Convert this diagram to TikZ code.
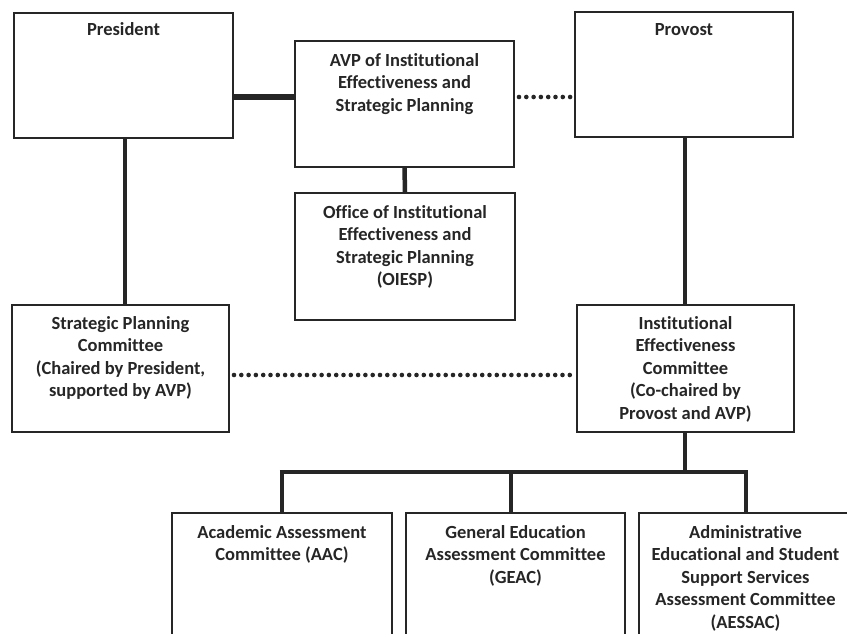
\documentclass[tikz,border=0pt]{standalone}
\usepackage{fontspec}
\setmainfont{Carlito}[Ligatures={NoCommon}]
\definecolor{ink}{HTML}{262626}
\begin{document}
\begin{tikzpicture}[x=1pt,y=-1pt,
  box/.style={draw=ink,line width=2pt,inner sep=0pt,rectangle},
  lbl/.style={anchor=north,inner sep=0pt,align=center,text=ink,
    font=\fontsize{18.5}{22.5}\selectfont\bfseries},
  solidlink/.style={draw=ink,line width=4.5pt},
  heavylink/.style={draw=ink,line width=6pt},
  dotlink/.style={draw=ink,line width=4.6pt,line cap=round,dash pattern=on 0pt off 7.3pt}
]
\useasboundingbox (0,0) rectangle (847,634);
\clip (0,0) rectangle (847,634);
\fill[white] (0,0) rectangle (847,634);

% boxes
\node[box,minimum width=219pt,minimum height=125pt] (pres) at (123.5,75.5) {};
\node[box,minimum width=219pt,minimum height=126pt] (avp) at (404.5,104) {};
\node[box,minimum width=220pt,minimum height=127pt] (oiesp) at (405,256.5) {};
\node[box,minimum width=218pt,minimum height=125pt] (prov) at (684,74.5) {};
\node[box,minimum width=217pt,minimum height=127pt] (spc) at (120.5,368.5) {};
\node[box,minimum width=217pt,minimum height=127pt] (iec) at (685.5,368.5) {};
\node[box,minimum width=220pt,minimum height=200pt] (aac) at (282,613) {};
\node[box,minimum width=219pt,minimum height=200pt] (geac) at (515.5,613) {};
\node[box,minimum width=217pt,minimum height=200pt] (aes) at (747.5,613) {};

% labels
\node[lbl] (presT) at ([yshift=-10pt]pres.north) {President};
\node[lbl] (avpT) at ([yshift=-13pt]avp.north) {AVP of Institutional\\Effectiveness and\\Strategic Planning};
\node[lbl] (oiespT) at ([yshift=-13pt]oiesp.north) {Office of Institutional\\Effectiveness and\\Strategic Planning\\(OIESP)};
\node[lbl] (provT) at ([yshift=-12pt]prov.north) {Provost};
\node[lbl] (spcT) at ([yshift=-12pt]spc.north) {Strategic Planning\\Committee\\(Chaired by President,\\supported by AVP)};
\node[lbl] (iecT) at ([yshift=-12pt]iec.north) {Institutional\\Effectiveness\\Committee\\(Co-chaired by\\Provost and AVP)};
\node[lbl] (aacT) at ([yshift=-13pt]aac.north) {Academic Assessment\\Committee (AAC)};
\node[lbl] (geacT) at ([yshift=-13pt]geac.north) {General Education\\Assessment Committee\\(GEAC)};
\node[lbl] (aesT) at ([xshift=-2pt,yshift=-13pt]aes.north) {Administrative\\Educational and Student\\Support Services\\Assessment Committee\\(AESSAC)};

% helper coordinates
\coordinate (rowA) at (0,97);
\coordinate (rowB) at (0,375);
\coordinate (bar) at (0,472);
\coordinate (colP) at (125,0);
\coordinate (colR) at (685,0);
\coordinate (colG) at (511,0);
\coordinate (colE) at (746,0);

% connectors
\draw[heavylink] (pres.east |- rowA) -- (avp.west |- rowA);
\draw[dotlink] ([xshift=4pt]avp.east |- rowA) -- ([xshift=-3pt]prov.west |- rowA);
\draw[solidlink] (avp.south) -- (oiesp.north);
\draw[solidlink] (colP |- pres.south) -- (colP |- spc.north);
\draw[solidlink] (colR |- prov.south) -- (colR |- iec.north);
\draw[dotlink] ([xshift=4pt]spc.east |- rowB) -- ([xshift=-3pt]iec.west |- rowB);
\draw[solidlink] (colR |- iec.south) -- (colR |- bar);
\draw[solidlink] ([xshift=-2.25pt]aac.north |- bar) -- ([xshift=2.25pt]colE |- bar);
\draw[solidlink] ([yshift=-2pt]aac.north |- bar) -- (aac.north);
\draw[solidlink] ([yshift=-2pt]colG |- bar) -- (colG |- geac.north);
\draw[solidlink] ([yshift=-2pt]colE |- bar) -- (colE |- aes.north);
\end{tikzpicture}
\end{document}
